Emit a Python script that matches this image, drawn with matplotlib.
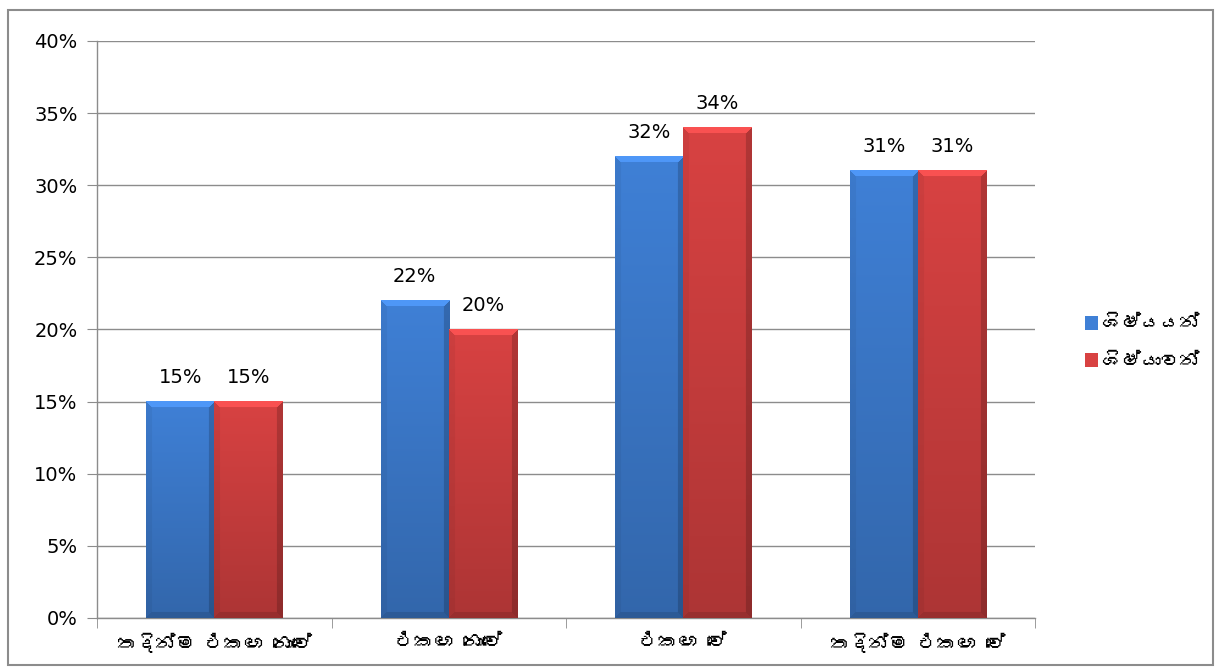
import matplotlib
matplotlib.use('Agg')
import matplotlib.pyplot as plt
import numpy as np
from matplotlib import font_manager, ft2font
from matplotlib.patches import Rectangle, Patch

# zero-width joiners dropped: matplotlib cannot shape them and draws a box
categories = ['තදින්ම එකඟ නොවේ', 'එකඟ නොවේ', 'එකඟ වේ', 'තදින්ම එකඟ වේ']
series_names = ['ශිෂ්යයන්', 'ශිෂ්යාවන්']
boys = [15, 22, 32, 31]
girls = [15, 20, 34, 31]
yticks = [0, 5, 10, 15, 20, 25, 30, 35, 40]


def find_sinhala_font():
    # look for any installed font that has Sinhala glyphs
    for f in font_manager.fontManager.ttflist:
        try:
            cmap = ft2font.FT2Font(f.fname).get_charmap()
        except Exception:
            continue
        if 0x0DC1 in cmap:
            return f.name
    return None


sin_font = find_sinhala_font()
label_family = [sin_font, 'DejaVu Sans'] if sin_font else ['DejaVu Sans']

blue = np.array([63, 128, 214]) / 255.
red = np.array([216, 66, 66]) / 255.

fig = plt.figure(figsize=(12.24, 6.71), dpi=100)
ax = fig.add_axes([0.0793, 0.079, 0.7663, 0.860])

x = np.arange(len(categories))
w = 0.29
bars_b = ax.bar(x - w / 2, boys, w, color=blue, zorder=3)
bars_r = ax.bar(x + w / 2, girls, w, color=red, zorder=3)

ax.set_xlim(-0.5, 3.5)
ax.set_ylim(0, 40)
fig.canvas.draw()


def bevel(bar, col):
    # paint a soft bevel + vertical shading over a bar, sized in pixels
    x0, y0 = bar.get_x(), bar.get_y()
    bw, bh = bar.get_width(), bar.get_height()
    p0 = ax.transData.transform((x0, y0))
    p1 = ax.transData.transform((x0 + bw, y0 + bh))
    nx = max(int(round(p1[0] - p0[0])), 2)
    ny = max(int(round(p1[1] - p0[1])), 2)
    shade = np.linspace(1.0, 0.80, ny)[:, None, None]
    img = np.ones((ny, nx, 3)) * col * shade
    b = 6
    for j in range(ny):
        for i in range(nx):
            d_top, d_bot = j, ny - 1 - j
            d_left, d_right = i, nx - 1 - i
            m = min(d_top, d_bot, d_left, d_right)
            if m >= b:
                continue
            if m == d_top:
                img[j, i] = np.clip(col * 1.12 + 0.03, 0, 1)
            elif m == d_right:
                img[j, i] = img[j, i] * 0.82
            elif m == d_bot:
                img[j, i] = img[j, i] * 0.88
            else:
                img[j, i] = img[j, i] * 0.95
    img = np.clip(img, 0, 1)
    ax.imshow(img, extent=(x0, x0 + bw, y0, y0 + bh), aspect='auto',
              zorder=3.5, interpolation='bilinear')


for bar in bars_b:
    bevel(bar, blue)
for bar in bars_r:
    bevel(bar, red)

ax.set_xlim(-0.5, 3.5)
ax.set_ylim(0, 40)

# data labels
for bars, vals in ((bars_b, boys), (bars_r, girls)):
    for bar, v in zip(bars, vals):
        ax.text(bar.get_x() + bar.get_width() / 2, v + 1.0, f'{v}%',
                ha='center', va='bottom', fontsize=14, color='black', zorder=5)

ax.set_yticks(yticks)
ax.set_yticklabels([f'{t}%' for t in yticks], fontsize=14)
ax.yaxis.grid(True, color='#8c8c8c', linewidth=1.0, zorder=0)
ax.set_axisbelow(True)

ax.set_xticks(x)
ax.set_xticklabels(categories, fontsize=14, fontweight='bold', family=label_family)
ax.set_xticks(np.arange(-0.5, 4.0, 1.0), minor=True)
ax.tick_params(axis='x', which='major', length=0, pad=11)
ax.tick_params(axis='x', which='minor', length=7, color='#8c8c8c', direction='out')
ax.tick_params(axis='y', length=7, color='#8c8c8c', direction='out', pad=7)

for s in ('top', 'right'):
    ax.spines[s].set_visible(False)
for s in ('left', 'bottom'):
    ax.spines[s].set_color('#8c8c8c')
    ax.spines[s].set_linewidth(1.0)

handles = [Patch(facecolor=blue, edgecolor='none'), Patch(facecolor=red, edgecolor='none')]
fig.legend(handles, series_names, loc='center left', bbox_to_anchor=(0.872, 0.49),
           frameon=False, handlelength=0.7, handleheight=0.7, handletextpad=0.2,
           labelspacing=1.1, prop={'family': label_family, 'weight': 'bold', 'size': 14})

# chart border
fig.patches.append(Rectangle((0.0065, 0.009), 0.9845, 0.976, transform=fig.transFigure,
                             fill=False, edgecolor='#8c8c8c', linewidth=1.5))

fig.savefig('out.png', dpi=100)
